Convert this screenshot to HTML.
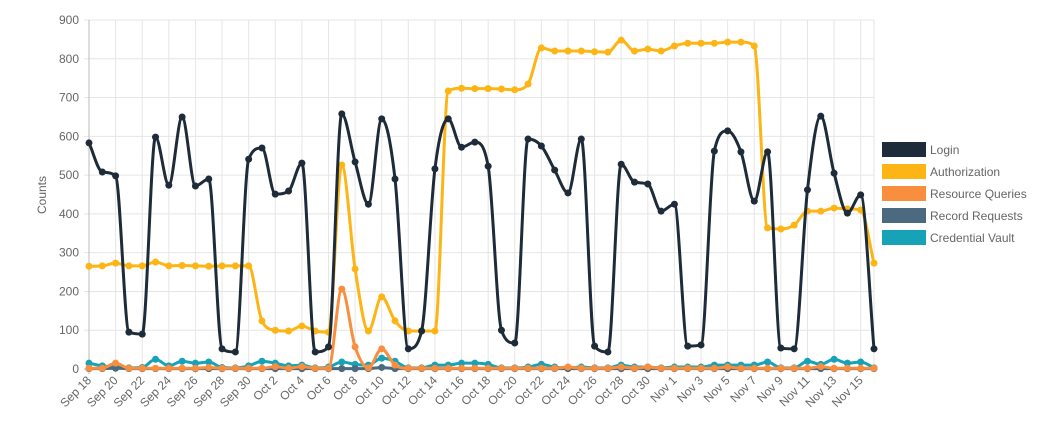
<!DOCTYPE html>
<html><head><meta charset="utf-8"><style>
html,body{margin:0;padding:0;background:#fff;}
svg{display:block;font-family:"Liberation Sans",sans-serif;}
</style></head><body>
<svg id="c" width="1062" height="422" xmlns="http://www.w3.org/2000/svg"></svg>
<script>
const svg=document.getElementById('c');
const X0=89,X1=874,Y0=369,Y1=20,N=60;
const dx=(X1-X0)/(N-1);
const yv=v=>Y0-(v/900)*(Y0-Y1);
const xv=i=>X0+i*dx;
let h='';
for(let v=0;v<=900;v+=100){const y=yv(v);
h+=`<line x1="${X0-5}" x2="${X1}" y1="${y}" y2="${y}" stroke="${v==0?'#bbb':'#e6e6e6'}" stroke-width="1"/>`;
h+=`<text x="79" y="${y+4}" font-size="12" fill="#666" text-anchor="end">${v}</text>`;}
function lab(i){let d=new Date(2019,8,18+i);return ['Sep','Oct','Nov'][d.getMonth()-8]+' '+d.getDate();}
for(let i=0;i<N;i+=2){const x=xv(i);
h+=`<line x1="${x}" x2="${x}" y1="${Y1}" y2="${Y0+5}" stroke="${i==0?'#bbb':'#e6e6e6'}"/>`;
h+=`<text transform="translate(${x+3},${Y0+12}) rotate(-45)" font-size="12" fill="#666" text-anchor="end">${lab(i)}</text>`;}
h+=`<line x1="${X1}" x2="${X1}" y1="${Y1}" y2="${Y0}" stroke="#e6e6e6"/>`;
h+=`<text transform="translate(46,195) rotate(-90)" font-size="12" fill="#666" text-anchor="middle">Counts</text>`;
const login=[583,508,498,95,90,598,474,650,472,490,52,44,541,570,451,459,531,44,57,658,534,425,645,490,52,98,516,645,572,585,523,100,67,593,575,513,454,593,59,44,528,482,477,407,425,59,62,562,614,560,433,560,54,52,462,652,505,402,449,52];
const auth=[265,266,273,266,266,276,266,267,266,265,266,266,266,124,100,98,111,98,95,526,258,98,186,124,98,98,98,717,724,723,723,722,720,735,828,820,820,820,818,817,848,820,825,820,833,840,840,840,843,843,833,364,361,371,407,407,415,413,410,273];
const res=new Array(N).fill(2);res[2]=15;res[19]=206;res[20]=57;res[21]=3;res[22]=52;res[23]=10;res[9]=4;res[14]=6;res[16]=6;res[36]=5;res[40]=5;res[42]=5;res[48]=5;res[55]=6;
const rec=new Array(N).fill(1);rec[2]=2;rec[22]=4;
const cred=[15,8,5,3,4,25,8,20,15,18,4,3,8,20,15,8,10,3,5,18,12,10,28,20,3,3,10,10,15,15,12,3,3,5,12,5,3,5,3,3,10,5,5,3,5,5,5,10,10,10,10,18,3,3,20,12,25,15,18,3];
function path(d){
 const x=d.map((_,i)=>xv(i)),y=d.map(v=>yv(v));
 const del=[],m=new Array(N);
 for(let i=0;i<N-1;i++)del[i]=(y[i+1]-y[i])/dx;
 m[0]=del[0];m[N-1]=del[N-2];
 for(let i=1;i<N-1;i++){ if(del[i-1]*del[i]<=0)m[i]=0; else m[i]=(del[i-1]+del[i])/2; }
 for(let i=0;i<N-1;i++){ if(del[i]==0){m[i]=0;m[i+1]=0;continue;}
  const a=m[i]/del[i],b=m[i+1]/del[i],s=a*a+b*b; if(s>9){const t=3/Math.sqrt(s);m[i]=t*a*del[i];m[i+1]=t*b*del[i];}}
 let p=`M${x[0]},${y[0]}`;
 for(let i=0;i<N-1;i++){const h3=dx/3;
  p+=`C${x[i]+h3},${y[i]+m[i]*h3} ${x[i+1]-h3},${y[i+1]-m[i+1]*h3} ${x[i+1]},${y[i+1]}`;}
 return p;}
function series(d,c){let s=`<path d="${path(d)}" fill="none" stroke="${c}" stroke-width="3"/>`;
d.forEach((v,i)=>s+=`<circle cx="${xv(i)}" cy="${yv(v)}" r="3.5" fill="${c}"/>`);return s;}
const cols=['#1e2b38','#fdb515','#f98e3f','#4b6a80','#17a2b8'];
h+=series(cred,cols[4])+series(rec,cols[3])+series(res,cols[2])+series(auth,cols[1])+series(login,cols[0]);
const names=['Login','Authorization','Resource Queries','Record Requests','Credential Vault'];
names.forEach((n,k)=>{const y=142+k*22;h+=`<rect x="882" y="${y}" width="44" height="15" fill="${cols[k]}"/><text x="930" y="${y+12}" font-size="12" fill="#666">${n}</text>`;});
svg.innerHTML=h;
</script>
</body></html>
